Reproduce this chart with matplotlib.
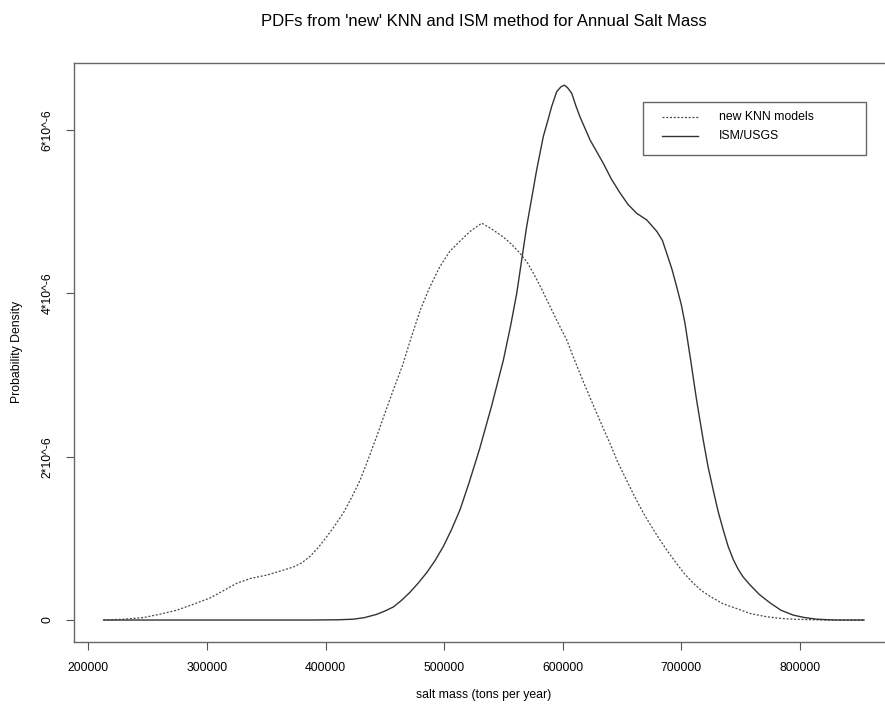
import matplotlib
matplotlib.use("Agg")
import matplotlib.pyplot as plt
from matplotlib.lines import Line2D
from matplotlib.patches import Rectangle

plt.rcParams['font.family'] = ['Liberation Sans', 'DejaVu Sans']

# ---- data ----
knn_x = [212900, 230000, 246400, 260000, 274500, 288000, 302600, 314000, 325100,
         337000, 350400, 362000, 372900, 380000, 387000, 394000, 401000,
         408000, 415000, 422000, 429100, 436000, 443200, 450000, 457200,
         465000, 472000, 480000, 488000, 496500, 505000, 513400, 522000, 531700,
         540000, 549900, 557000, 564000, 570000, 575200, 582000, 589300, 596000,
         603400, 609000, 617000, 625800, 632000, 639900, 646500, 653900,
         661000, 668000, 675000, 682000, 689000, 696100, 703000, 710200,
         717000, 724200, 735000, 746700, 758000, 772000, 784000, 794400, 820000, 854000]
knn_y = [0.0, 0.01, 0.03, 0.07, 0.12, 0.19, 0.27, 0.36, 0.45,
         0.51, 0.55, 0.60, 0.65, 0.70, 0.78, 0.89, 1.02,
         1.16, 1.31, 1.50, 1.71, 1.97, 2.25, 2.53, 2.82,
         3.12, 3.45, 3.80, 4.08, 4.33, 4.52, 4.64, 4.76, 4.86,
         4.79, 4.69, 4.60, 4.49, 4.38, 4.25, 4.06, 3.84, 3.64,
         3.43, 3.22, 2.93, 2.63, 2.42, 2.16, 1.93, 1.71,
         1.50, 1.31, 1.14, 0.98, 0.83, 0.69, 0.56, 0.45,
         0.36, 0.29, 0.20, 0.14, 0.08, 0.04, 0.02, 0.01, 0.0, 0.0]

ism_x = [212900, 387000, 410000, 423400, 433000, 443200, 450000, 457200, 464000,
         471200, 478000, 485300, 492000, 499300, 506000, 513400, 521000,
         530000, 540000, 549900, 556000, 561200, 565500, 569600, 574000, 578000,
         583600, 587500, 590700, 594900, 598500, 601400, 604000, 607600, 611000,
         614600, 623000, 634300, 641000, 648300, 655000, 662400, 670800, 679300,
         684000, 687700, 692000, 696100, 700000, 703100, 708000, 712900, 718500,
         722500, 726900, 731000, 735400, 739500, 743800, 748000, 752000, 757900,
         766000, 774800, 784000, 794400, 804000, 814100, 830000, 854000]
ism_y = [0.0, 0.0, 0.003, 0.01, 0.03, 0.07, 0.11, 0.16, 0.24,
         0.34, 0.45, 0.58, 0.72, 0.90, 1.10, 1.35, 1.68,
         2.10, 2.62, 3.18, 3.60, 4.00, 4.42, 4.82, 5.18, 5.51,
         5.92, 6.12, 6.29, 6.47, 6.53, 6.55, 6.52, 6.45, 6.30,
         6.16, 5.88, 5.59, 5.40, 5.23, 5.09, 4.98, 4.90, 4.76,
         4.65, 4.49, 4.30, 4.08, 3.86, 3.63, 3.17, 2.69, 2.20,
         1.88, 1.59, 1.33, 1.10, 0.90, 0.74, 0.62, 0.53, 0.43,
         0.31, 0.21, 0.12, 0.06, 0.03, 0.01, 0.0, 0.0]

scale = 1e-6
x_ticks = [200000, 300000, 400000, 500000, 600000, 700000, 800000]
y_ticks = [0, 2e-6, 4e-6, 6e-6]
y_tick_labels = ["0", "2*10^-6", "4*10^-6", "6*10^-6"]
legend_labels = ["new KNN models", "ISM/USGS"]

title = "PDFs from 'new' KNN and ISM method for Annual Salt Mass"
xlabel = "salt mass (tons per year)"
ylabel = "Probability Density"

# ---- figure ----
W, H = 885, 708
fig = plt.figure(figsize=(W / 100, H / 100), dpi=100)

def fx(px):
    return px / W

def fy(py):
    return 1 - py / H

left_px, right_px, top_px, bottom_px = 74, 894, 62.7, 642
ax = fig.add_axes([fx(left_px), fy(bottom_px), (right_px - left_px) / W, (bottom_px - top_px) / H])

line_col_dot = '#4a4a4a'
line_col_sol = '#333333'
dot_style = (0, (1.6, 1.4))
ax.plot(knn_x, [v * scale for v in knn_y], color=line_col_dot, lw=0.9, linestyle=dot_style)
ax.plot(ism_x, [v * scale for v in ism_y], color=line_col_sol, lw=1.0)

ax.set_xlim(187940, 879300)
ax.set_ylim(-0.269e-6, 6.825e-6)

ax.set_xticks(x_ticks)
ax.set_xticklabels([str(t) for t in x_ticks], fontsize=8.8)
ax.set_yticks(y_ticks)
ax.set_yticklabels(y_tick_labels, fontsize=8.8, rotation=90, va='center')
ax.tick_params(direction='out', length=6, width=0.8, color='#555555', pad=8.5)

for s in ax.spines.values():
    s.set_color('#666666')
    s.set_linewidth(1.0)

# labels
fig.text(fx((left_px + right_px) / 2), fy(22), title, ha='center', va='center', fontsize=12)
fig.text(fx((left_px + right_px) / 2), fy(695), xlabel, ha='center', va='center', fontsize=8.8)
fig.text(fx(17), fy((top_px + bottom_px) / 2), ylabel, ha='center', va='center',
         rotation=90, fontsize=8.8)

# legend (manual, R-style)
lx0, ly0, lx1, ly1 = 643.3, 101.7, 865.7, 155
fig.add_artist(Rectangle((fx(lx0), fy(ly1)), (lx1 - lx0) / W, (ly1 - ly0) / H,
                         transform=fig.transFigure, fill=False, edgecolor='#666666', lw=1.0))
fig.add_artist(Line2D([fx(662), fx(698)], [fy(117.3), fy(117.3)], transform=fig.transFigure,
                      color=line_col_dot, lw=0.9, linestyle=dot_style))
fig.add_artist(Line2D([fx(662), fx(698)], [fy(136), fy(136)], transform=fig.transFigure,
                      color=line_col_sol, lw=1.0))
fig.text(fx(719.3), fy(117.3), legend_labels[0], ha='left', va='center', fontsize=8.8)
fig.text(fx(719.3), fy(136), legend_labels[1], ha='left', va='center', fontsize=8.8)

fig.savefig("out.png", dpi=100)
